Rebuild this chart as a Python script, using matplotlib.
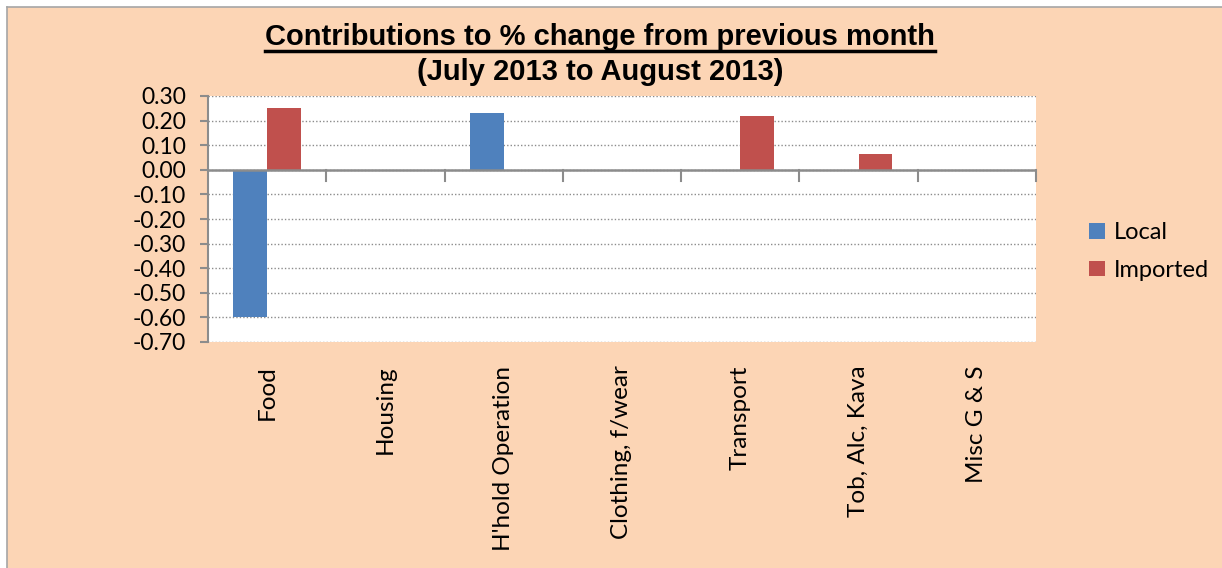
import matplotlib
matplotlib.use("Agg")
import matplotlib.pyplot as plt
from matplotlib.patches import Rectangle
from matplotlib.lines import Line2D
import numpy as np

categories = ["Food", "Housing", "H'hold Operation", "Clothing, f/wear",
              "Transport", "Tob, Alc, Kava", "Misc G & S"]
local = [-0.60, 0.0, 0.23, 0.0, 0.0, 0.0, 0.0]
imported = [0.25, 0.0, 0.0, 0.0, 0.22, 0.065, 0.0]
y_ticks = [0.30, 0.20, 0.10, 0.00, -0.10, -0.20, -0.30, -0.40, -0.50, -0.60, -0.70]

BLUE = "#4F81BD"
RED = "#C0504D"
PEACH = "#FCD5B5"
GRID = "#8C8C8C"
FONT = "Lato"

W, H = 1222, 568
fig = plt.figure(figsize=(W / 100, H / 100), dpi=100)
fig.patch.set_facecolor("white")

# chart area background with grey border on left/top
bg = Rectangle((7 / W, 0), 1, 1 - 7 / H, transform=fig.transFigure,
               facecolor=PEACH, edgecolor="none", zorder=-10)
fig.patches.append(bg)
fig.lines.append(Line2D([7 / W, 7 / W], [0, 1 - 7 / H], transform=fig.transFigure,
                        color="#A6A6A6", lw=1.2))
fig.lines.append(Line2D([7 / W, 1], [1 - 7 / H, 1 - 7 / H], transform=fig.transFigure,
                        color="#A6A6A6", lw=1.2))

ax = fig.add_axes([208 / W, 1 - 342 / H, (1036 - 208) / W, (342 - 96) / H])
ax.set_facecolor("white")

x = np.arange(len(categories))
bw = 0.286
ax.bar(x - bw / 2, local, bw, color=BLUE, label="Local", zorder=3)
ax.bar(x + bw / 2, imported, bw, color=RED, label="Imported", zorder=3)

ax.set_xlim(-0.5, len(categories) - 0.5)
ax.set_ylim(-0.70, 0.30)
ax.set_yticks(y_ticks)
ax.set_yticklabels([f"{v:.2f}" for v in y_ticks], fontsize=16.5, family=FONT)

for v in y_ticks:
    ax.axhline(v, color=GRID, lw=1.0, ls=(0, (1, 1.5)), zorder=1)

for s in ["top", "right", "bottom"]:
    ax.spines[s].set_visible(False)
ax.spines["left"].set_color(GRID)
ax.spines["left"].set_linewidth(1.5)
ax.tick_params(axis="y", direction="out", length=6, width=1.5, color=GRID, pad=10)

# category axis at zero with ticks between groups
ax.axhline(0, color=GRID, lw=1.8, zorder=4)
ax.set_xticks([])
for b in np.arange(0.5, len(categories), 1.0):
    ax.plot([b, b], [0, -0.045], color=GRID, lw=1.5, zorder=4, clip_on=False)

for i, c in enumerate(categories):
    ax.annotate(c, xy=(i, 0), xycoords=("data", "axes fraction"),
                xytext=(0, -17), textcoords="offset points",
                rotation=90, ha="center", va="top", fontsize=17.5, family=FONT)

leg = fig.legend(loc="upper left", bbox_to_anchor=(1068 / W, 1 - 201 / H),
                 frameon=False, handlelength=0.65, handleheight=0.65,
                 handletextpad=0.4, labelspacing=0.7,
                 prop={"family": FONT, "size": 17})

tx = 600 / W
t1 = fig.text(tx, 1 - 45 / H, "Contributions to % change from previous month",
              ha="center", va="baseline", fontsize=21, fontweight="bold",
              family="Liberation Sans")
fig.text(tx, 1 - 80 / H, "(July 2013 to August 2013)",
         ha="center", va="baseline", fontsize=21, fontweight="bold",
         family="Liberation Sans")

fig.canvas.draw()
bb = t1.get_window_extent().transformed(fig.transFigure.inverted())
uy = 1 - 51 / H
fig.lines.append(Line2D([bb.x0, bb.x1], [uy, uy], transform=fig.transFigure,
                        color="black", lw=2.5))

fig.savefig("out.png", dpi=100, facecolor=fig.get_facecolor())
